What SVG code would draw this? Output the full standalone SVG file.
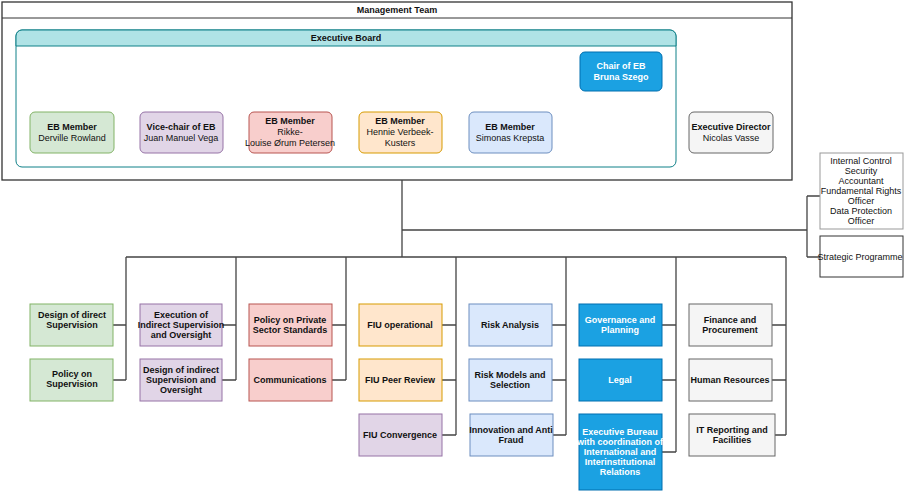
<svg xmlns="http://www.w3.org/2000/svg" width="907" height="494" viewBox="0 0 907 494">
<style>
text{font-family:"Liberation Sans",Arial,sans-serif;font-size:9px;text-anchor:middle;fill:#111}
.b{font-weight:bold}
.w{fill:#fff;font-weight:bold}
.g{fill:#d5e8d4;stroke:#82b366}
.p{fill:#e1d5e7;stroke:#9673a6}
.r{fill:#f8cecc;stroke:#b85450}
.o{fill:#ffe6cc;stroke:#d79b00}
.u{fill:#dae8fc;stroke:#6c8ebf}
.d{fill:#1ba1e2;stroke:#006eaf}
.y{fill:#f5f5f5;stroke:#666}
.c{fill:none;stroke:#444;stroke-width:1.3}
</style>
<rect width="907" height="494" fill="#fff"/>
<g id="management-team">
<rect x="2" y="2" width="790" height="178" fill="#fff" stroke="#333" stroke-width="1.3"/>
<line x1="2" y1="18" x2="792" y2="18" stroke="#333"/>
<text x="397" y="13" class="b">Management Team</text>
</g>
<g id="executive-board">
<rect x="16" y="30" width="660" height="137" rx="6" fill="#fff" stroke="#0e8088"/>
<path d="M16 46V36a6 6 0 0 1 6-6h648a6 6 0 0 1 6 6v10z" fill="#b0e3e6" stroke="#0e8088"/>
<text x="346" y="41" class="b">Executive Board</text>
</g>
<g id="chair"><rect x="580" y="52" width="82" height="39" rx="5" class="d"/><text x="621" y="69" class="w">Chair of EB</text><text x="621" y="80" class="w">Bruna Szego</text></g>
<g id="eb1"><rect x="30" y="112" width="84" height="41" rx="5" class="g"/><text x="72" y="130" class="b">EB Member</text><text x="72" y="141">Derville Rowland</text></g>
<g id="eb2"><rect x="140" y="112" width="83" height="41" rx="5" class="p"/><text x="181" y="130" class="b">Vice-chair of EB</text><text x="181" y="141">Juan Manuel Vega</text></g>
<g id="eb3"><rect x="249" y="112" width="83" height="41" rx="5" class="r"/><text x="290" y="124" class="b">EB Member</text><text x="290" y="135">Rikke-</text><text x="290" y="146">Louise Ørum Petersen</text></g>
<g id="eb4"><rect x="359" y="112" width="83" height="41" rx="5" class="o"/><text x="400" y="124" class="b">EB Member</text><text x="400" y="135">Hennie Verbeek-</text><text x="400" y="146">Kusters</text></g>
<g id="eb5"><rect x="469" y="112" width="83" height="41" rx="5" class="u"/><text x="510" y="130" class="b">EB Member</text><text x="510" y="141">Simonas Krepsta</text></g>
<g id="exec-director"><rect x="689" y="112" width="84" height="41" rx="5" class="y"/><text x="731" y="130" class="b">Executive Director</text><text x="731" y="141">Nicolas Vasse</text></g>
<g id="connectors">
<path class="c" d="M402 180V257M402 230H807M807 196V257M807 196H820M807 257H820M126 257H786"/>
<path class="c" d="M126 257V380M113 325H126M113 380H126"/>
<path class="c" d="M236 257V380M222 325H236M222 380H236"/>
<path class="c" d="M346 257V380M332 325H346M332 380H346"/>
<path class="c" d="M456 257V435M442 325H456M442 380H456M442 435H456"/>
<path class="c" d="M566 257V435M552 325H566M552 380H566M553 435H566"/>
<path class="c" d="M676 257V452M662 325H676M662 380H676M662 452H676"/>
<path class="c" d="M786 257V435M772 325H786M772 380H786M775 435H786"/>
</g>
<g id="side1"><rect x="820" y="153" width="83" height="76" fill="#fff" stroke="#999"/>
<text x="861" y="164">Internal Control</text><text x="861" y="174">Security</text><text x="861" y="184">Accountant</text><text x="861" y="194">Fundamental Rights</text><text x="861" y="204">Officer</text><text x="861" y="214">Data Protection</text><text x="861" y="224">Officer</text></g>
<g id="side2"><rect x="820" y="236" width="83" height="41" fill="#fff" stroke="#333"/><text x="860" y="260">Strategic Programme</text></g>
<g id="n1"><rect x="30" y="304" width="83" height="42" class="g"/><text x="72" y="318" class="b">Design of direct</text><text x="72" y="328" class="b">Supervision</text></g>
<g id="n2"><rect x="30" y="359" width="83" height="42" class="g"/><text x="72" y="377" class="b">Policy on</text><text x="72" y="387" class="b">Supervision</text></g>
<g id="n3"><rect x="140" y="304" width="82" height="42" class="p"/><text x="181" y="318" class="b">Execution of</text><text x="181" y="328" class="b">Indirect Supervision</text><text x="181" y="338" class="b">and Oversight</text></g>
<g id="n4"><rect x="140" y="359" width="82" height="42" class="p"/><text x="181" y="373" class="b">Design of indirect</text><text x="181" y="383" class="b">Supervision and</text><text x="181" y="393" class="b">Oversight</text></g>
<g id="n5"><rect x="249" y="304" width="83" height="42" class="r"/><text x="290" y="323" class="b">Policy on Private</text><text x="290" y="333" class="b">Sector Standards</text></g>
<g id="n6"><rect x="249" y="359" width="83" height="42" class="r"/><text x="290" y="383" class="b">Communications</text></g>
<g id="n7"><rect x="359" y="304" width="83" height="42" class="o"/><text x="400" y="328" class="b">FIU operational</text></g>
<g id="n8"><rect x="359" y="359" width="83" height="42" class="o"/><text x="400" y="383" class="b">FIU Peer Review</text></g>
<g id="n9"><rect x="359" y="414" width="83" height="42" class="p"/><text x="400" y="438" class="b">FIU Convergence</text></g>
<g id="n10"><rect x="469" y="304" width="83" height="42" class="u"/><text x="510" y="328" class="b">Risk Analysis</text></g>
<g id="n11"><rect x="469" y="359" width="83" height="42" class="u"/><text x="510" y="378" class="b">Risk Models and</text><text x="510" y="388" class="b">Selection</text></g>
<g id="n12"><rect x="470" y="414" width="83" height="42" class="u"/><text x="511" y="433" class="b">Innovation and Anti</text><text x="511" y="443" class="b">Fraud</text></g>
<g id="n13"><rect x="579" y="304" width="83" height="42" class="d"/><text x="620" y="323" class="w">Governance and</text><text x="620" y="333" class="w">Planning</text></g>
<g id="n14"><rect x="579" y="359" width="83" height="42" class="d"/><text x="620" y="383" class="w">Legal</text></g>
<g id="n15"><rect x="579" y="414" width="83" height="76" class="d"/><text x="620" y="435" class="w">Executive Bureau</text><text x="620" y="445" class="w">with coordination of</text><text x="620" y="455" class="w">International and</text><text x="620" y="465" class="w">Interinstitutional</text><text x="620" y="475" class="w">Relations</text></g>
<g id="n16"><rect x="689" y="304" width="83" height="42" class="y"/><text x="730" y="323" class="b">Finance and</text><text x="730" y="333" class="b">Procurement</text></g>
<g id="n17"><rect x="689" y="359" width="83" height="42" class="y"/><text x="730" y="383" class="b">Human Resources</text></g>
<g id="n18"><rect x="689" y="414" width="86" height="42" class="y"/><text x="732" y="433" class="b">IT Reporting and</text><text x="732" y="443" class="b">Facilities</text></g>
</svg>
